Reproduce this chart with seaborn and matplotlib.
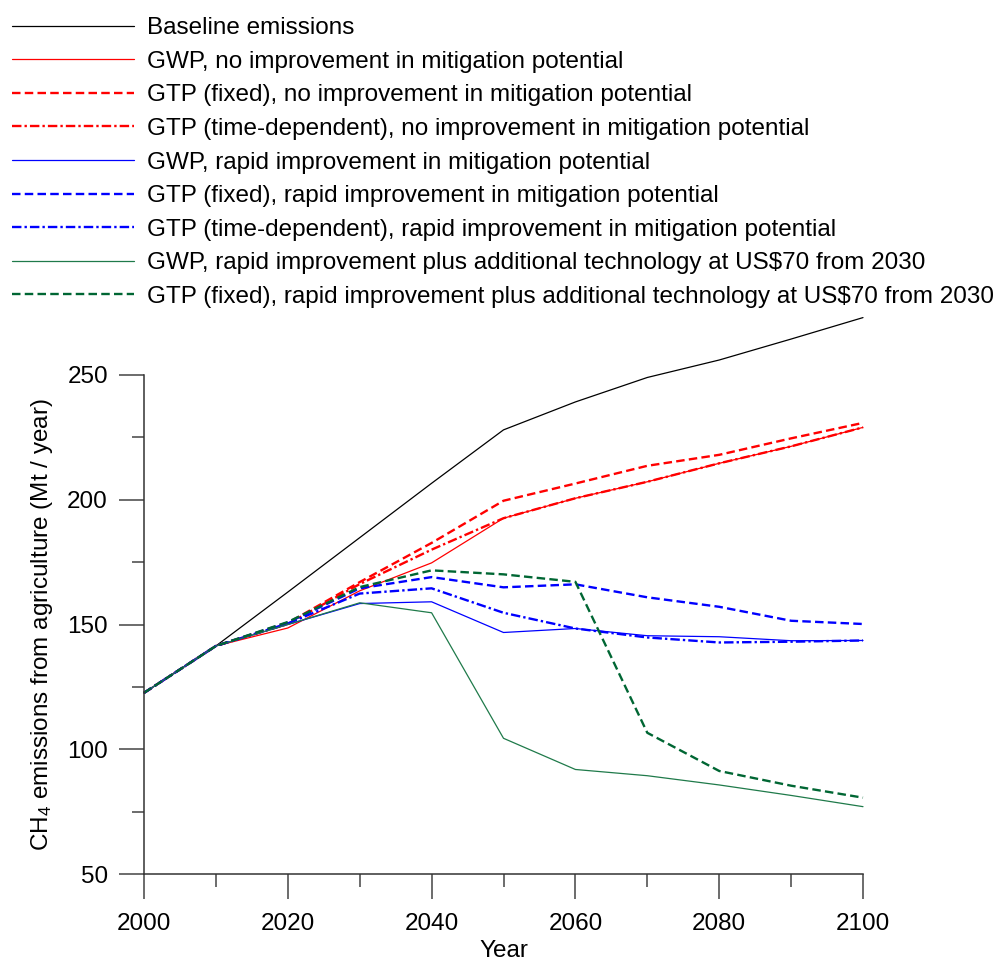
import matplotlib
matplotlib.use("Agg")
import matplotlib.pyplot as plt
import seaborn as sns
import pandas as pd
from matplotlib.ticker import MultipleLocator

# Years of the scenario runs
years = [2000, 2010, 2020, 2030, 2040, 2050, 2060, 2070, 2080, 2090, 2100]

# CH4 emissions from agriculture (Mt / year)
baseline = [122.6, 141.4, 163.0, 184.8, 206.6, 228.0, 239.2, 249.0, 256.0, 264.4, 273.0]
gwp_none = [122.6, 141.4, 148.6, 163.5, 174.7, 192.6, 200.6, 207.2, 214.6, 221.4, 229.0]
gtp_fixed_none = [122.6, 141.4, 150.6, 167.0, 182.7, 199.6, 206.5, 213.6, 218.0, 224.6, 230.8]
gtp_td_none = [122.6, 141.4, 150.2, 166.2, 180.0, 192.6, 200.6, 207.2, 214.6, 221.4, 229.0]
gwp_rapid = [122.6, 141.4, 150.0, 158.4, 159.1, 146.8, 148.4, 145.5, 145.1, 143.5, 143.6]
gtp_fixed_rapid = [122.6, 141.4, 150.8, 164.5, 169.0, 164.9, 166.1, 160.9, 157.1, 151.5, 150.2]
gtp_td_rapid = [122.6, 141.4, 150.4, 162.4, 164.5, 154.7, 148.4, 144.8, 142.8, 143.1, 143.6]
gwp_tech = [122.6, 141.4, 150.0, 158.7, 154.7, 104.4, 91.9, 89.4, 85.7, 81.5, 77.0]
gtp_fixed_tech = [122.6, 141.4, 151.0, 165.0, 171.7, 170.1, 167.1, 106.6, 91.3, 85.4, 80.6]

labels = [
    "Baseline emissions",
    "GWP, no improvement in mitigation potential",
    "GTP (fixed), no improvement in mitigation potential",
    "GTP (time-dependent), no improvement in mitigation potential",
    "GWP, rapid improvement in mitigation potential",
    "GTP (fixed), rapid improvement in mitigation potential",
    "GTP (time-dependent), rapid improvement in mitigation potential",
    "GWP, rapid improvement plus additional technology at US$70 from 2030",
    "GTP (fixed), rapid improvement plus additional technology at US$70 from 2030",
]
series = [baseline, gwp_none, gtp_fixed_none, gtp_td_none, gwp_rapid,
          gtp_fixed_rapid, gtp_td_rapid, gwp_tech, gtp_fixed_tech]

solid = "-"
dashed = (0, (3.6, 1.8))
dashdot = (0, (4.0, 1.3, 1.0, 1.3))
styles = [
    ("black", solid, 0.9),
    ("#ff0000", solid, 0.9),
    ("#ff0000", dashed, 1.7),
    ("#ff0000", dashdot, 1.7),
    ("#0000ff", solid, 0.9),
    ("#0000ff", dashed, 1.7),
    ("#0000ff", dashdot, 1.7),
    ("#1f7a4a", solid, 0.9),
    ("#006633", dashed, 1.7),
]

sns.set_theme(style="ticks")
plt.rcParams["font.family"] = ["Liberation Sans", "DejaVu Sans"]
plt.rcParams["text.color"] = "black"
plt.rcParams["axes.labelcolor"] = "black"
plt.rcParams["mathtext.fontset"] = "custom"
plt.rcParams["mathtext.rm"] = "Liberation Sans"
plt.rcParams["mathtext.it"] = "Liberation Sans:italic"
plt.rcParams["mathtext.default"] = "regular"

fs = 17.5
fig = plt.figure(figsize=(10, 9.61), dpi=100)
ax = fig.add_axes([0.144, 0.0905, 0.719, 0.5193])

for lab, vals, (col, ls, lw) in zip(labels, series, styles):
    df = pd.DataFrame({"Year": years, "Emissions": vals})
    sns.lineplot(data=df, x="Year", y="Emissions", ax=ax, color=col,
                 linestyle=ls, linewidth=lw, label=lab, estimator=None,
                 sort=False, clip_on=False)

ax.set_xlim(2000, 2100)
ax.set_ylim(50, 250)
ax.xaxis.set_major_locator(MultipleLocator(20))
ax.xaxis.set_minor_locator(MultipleLocator(10))
ax.yaxis.set_major_locator(MultipleLocator(50))
ax.yaxis.set_minor_locator(MultipleLocator(25))

for s in ["top", "right"]:
    ax.spines[s].set_visible(False)
for s in ["left", "bottom"]:
    ax.spines[s].set_color("#333333")
    ax.spines[s].set_linewidth(1.1)

ax.tick_params(which="major", direction="out", length=18, width=1.1,
               color="#444444", labelsize=fs, labelcolor="black")
ax.tick_params(axis="y", which="major", pad=8)
ax.tick_params(axis="x", which="major", pad=10)
ax.tick_params(which="minor", direction="out", length=9, width=1.1,
               color="#444444")

ax.set_xlabel("Year", fontsize=fs, labelpad=4, color="black")
ax.set_ylabel("CH$_4$ emissions from agriculture (Mt / year)", fontsize=fs,
              labelpad=9, color="black")

handles, labs = ax.get_legend_handles_labels()
ax.legend_.remove()
leg = fig.legend(handles, labs, loc="upper left", bbox_to_anchor=(0.012, 0.982),
                 frameon=False, fontsize=fs, handlelength=5.0, handletextpad=0.55,
                 labelspacing=0.475, borderpad=0, borderaxespad=0)
for t in leg.get_texts():
    t.set_color("black")

fig.savefig("out.png", dpi=100, facecolor="white")
